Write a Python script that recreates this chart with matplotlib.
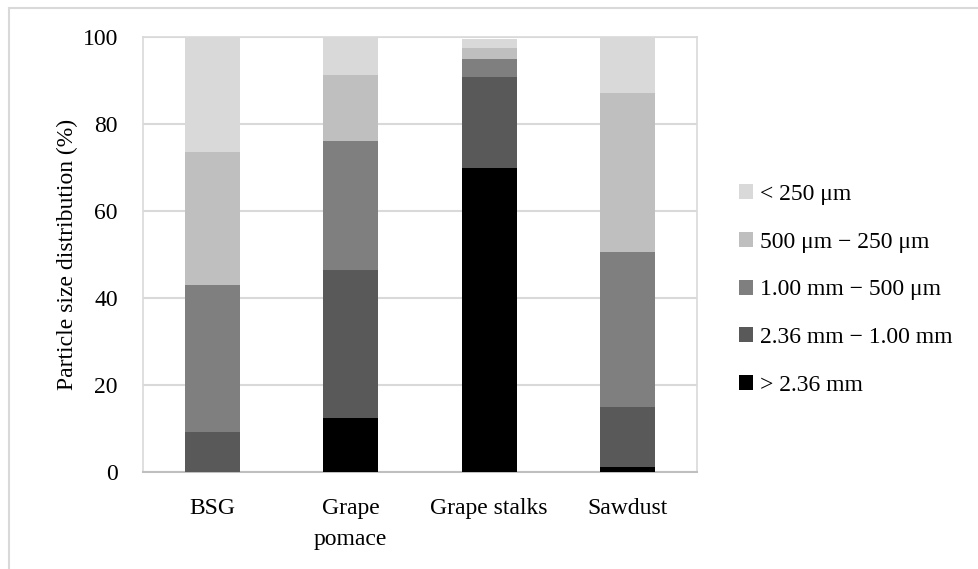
import numpy as np
import matplotlib
matplotlib.use('Agg')
import matplotlib.pyplot as plt
from matplotlib.patches import Rectangle

plt.rcParams['font.family'] = ['Liberation Serif', 'DejaVu Serif']

# --- Data (percent of mass per size fraction) ---
samples = ['BSG', 'Grape\npomace', 'Grape stalks', 'Sawdust']
fractions = ['> 2.36 mm', '2.36 mm \u2212 1.00 mm', '1.00 mm \u2212 500 \u03bcm',
             '500 \u03bcm \u2212 250 \u03bcm', '< 250 \u03bcm']
gt_236 = [0.0, 12.3, 69.9, 1.2]
f_236_100 = [9.3, 34.1, 20.8, 13.7]
f_100_500 = [33.8, 29.8, 4.2, 35.7]
f_500_250 = [30.4, 15.0, 2.6, 36.6]
lt_250 = [26.5, 8.8, 2.0, 12.8]
colors = ['#000000', '#595959', '#7f7f7f', '#bfbfbf', '#d9d9d9']

series = [gt_236, f_236_100, f_100_500, f_500_250, lt_250]

fig = plt.figure(figsize=(9.79, 5.69), dpi=100)
ax = fig.add_axes([143 / 979, 1 - 472 / 569, 554 / 979, 435 / 569])

x = np.arange(len(samples))
bottom = np.zeros(len(samples))
handles = []
for vals, col, lab in zip(series, colors, fractions):
    b = ax.bar(x, vals, 0.4, bottom=bottom, color=col, label=lab, zorder=3)
    handles.append(b)
    bottom += np.array(vals)

ax.set_xlim(-0.5, 3.5)
ax.set_ylim(0, 100)
ax.set_yticks(np.arange(0, 101, 20))
ax.set_xticks(x)
ax.set_xticklabels(samples, fontsize=17, linespacing=1.6, va='top')
ax.tick_params(axis='x', length=0, pad=19)
ax.tick_params(axis='y', length=0, pad=18, labelsize=17)
ax.yaxis.grid(True, color='#d9d9d9', linewidth=1.5, zorder=0)
ax.set_axisbelow(True)
for s in ['left', 'right', 'top']:
    ax.spines[s].set_color('#d9d9d9')
    ax.spines[s].set_linewidth(1.2)
ax.spines['bottom'].set_color('#bfbfbf')
ax.spines['bottom'].set_linewidth(1.5)
ax.set_ylabel('Particle size distribution (%)', fontsize=17, labelpad=3)

leg = fig.legend(handles[::-1], fractions[::-1], loc='center left',
                 bbox_to_anchor=(739 / 979, 1 - 290 / 569), frameon=False,
                 fontsize=17, handlelength=0.6, handleheight=0.6,
                 handletextpad=0.3, labelspacing=1.13, borderpad=0,
                 borderaxespad=0)

# light outer border (only left and top edges visible in the original)
fig.patches.append(Rectangle((9 / 979, -0.5), 2, 0.5 + 1 - 8 / 569,
                             transform=fig.transFigure, fill=False,
                             edgecolor='#d9d9d9', linewidth=1.5))

fig.savefig('out.png', dpi=100)
